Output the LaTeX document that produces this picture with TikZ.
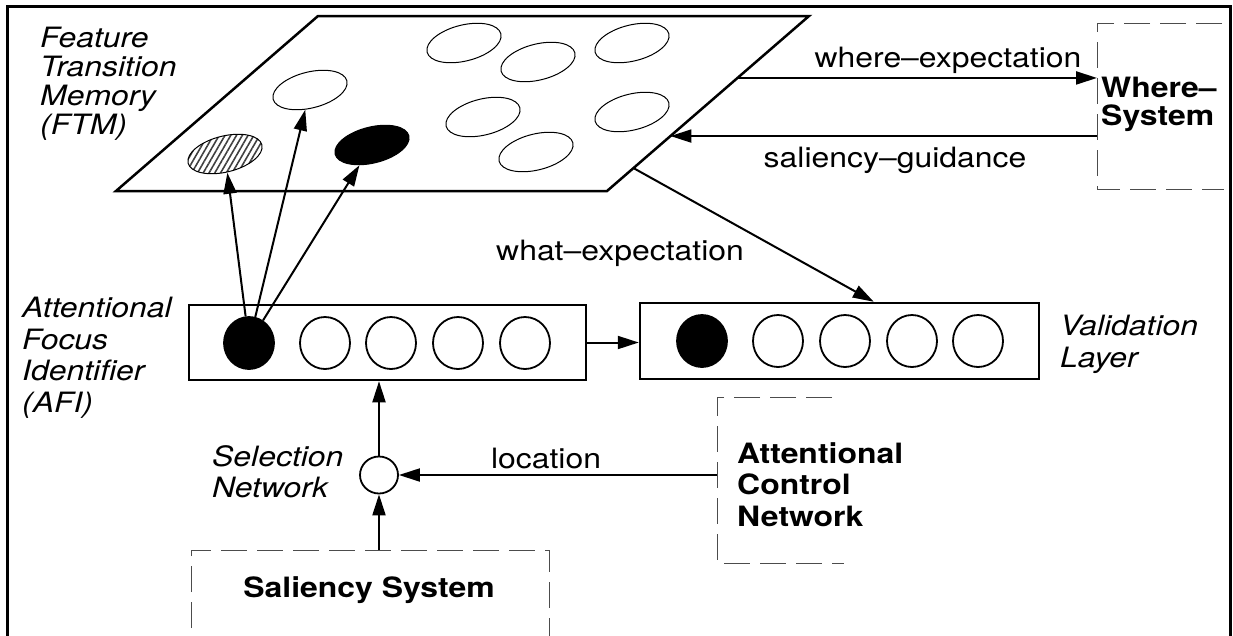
\documentclass[tikz,border=0pt]{standalone}
\usepackage{fontspec}
\setmainfont{TeX Gyre Heros}[FakeStretch=1.14]
\usetikzlibrary{arrows.meta,shapes.geometric,patterns.meta,calc}
\begin{document}
\begin{tikzpicture}[x=1pt,y=-1pt,
  itl/.style={inner sep=0pt,font=\fontsize{28}{31.5}\selectfont\itshape,align=left,anchor=north west},
  bld/.style={inner sep=0pt,font=\fontsize{28}{31.5}\selectfont\bfseries,align=left,anchor=north west},
  lbl/.style={inner sep=0pt,font=\fontsize{28}{31.5}\selectfont,anchor=base},
  cell/.style={ellipse,draw,line width=1.8pt,minimum width=50pt,minimum height=52pt,inner sep=0pt},
  cellon/.style={cell,fill=black},
  feat/.style={ellipse,draw,line width=1pt,minimum width=76pt,minimum height=36pt,inner sep=0pt,rotate=14},
  layer/.style={draw,line width=2.5pt,inner sep=0pt},
  arr/.style={line width=2pt,-{Triangle[length=21pt,width=13pt]}},
  dsh/.style={draw=black!70,line width=1pt,dash pattern=on 26pt off 10pt},
]
\useasboundingbox (0,0) rectangle (1233,635);
\clip (0,0) rectangle (1233,635);

% outer frame (open at the bottom edge of the page)
\draw[line width=3pt] (7.5,700) -- (7.5,6.5) -- (1230,6.5) -- (1230,700);

% feature transition memory plane
\coordinate (p-tl) at (318,16);
\coordinate (p-tr) at (809,16);
\coordinate (p-br) at (607,191);
\coordinate (p-bl) at (116,191);
\draw[line width=2.5pt,line join=miter] (p-tl) -- (p-tr) -- (p-br) -- (p-bl) -- cycle;

\node[feat] (e1) at (464,43) {};
\node[feat] (e2) at (538,62) {};
\node[feat] (e3) at (632,43) {};
\node[feat] (e4) at (483,117) {};
\node[feat] (e5) at (632,112) {};
\node[feat] (e6) at (536,152) {};
\node[feat] (e7) at (310,90) {};
\node[feat,pattern={Lines[angle=60,distance=5pt,line width=1.6pt]},pattern color=black!75] (hatch) at (225,154) {};
\node[feat,fill=black] (blk) at (372,145) {};

\node[itl] (ftm) at (40,27) {Feature\\[-2.5pt]Transition\\[-2.5pt]Memory\\[-2.5pt](FTM)};

% where-system
\coordinate (ws-tl) at (1097,23);
\coordinate (ws-bl) at (1097,189);
\draw[dsh] (1222,23) -- (ws-tl) -- (ws-bl) -- (1224,189);
\node[bld] (where) at (1101,77) {Where--\\[-3.5pt]System};

\coordinate (we-start) at ($(p-tr)!0.354!(p-br)$);
\coordinate (sg-end) at ($(p-tr)!0.686!(p-br)$);
\coordinate (wh-start) at ($(p-tr)!0.869!(p-br)$);
\draw[arr] (we-start) -- (we-start -| ws-tl);
\draw[arr] (sg-end -| ws-tl) -- (sg-end);
\node[lbl] (we) at (948,67) {where--expectation};
\node[lbl] (sg) at (895,167) {saliency--guidance};

% attentional focus identifier
\node[layer,minimum width=397pt,minimum height=75pt] (afi) at (387.5,342.5) {};
\node[cellon] (a1) at (249,343) {};
\node[cell] (a2) at (325,343) {};
\node[cell] (a3) at (391,343) {};
\node[cell] (a4) at (458,343) {};
\node[cell] (a5) at (525,343) {};
\node[itl] (afilbl) at (22,297) {Attentional\\Focus\\Identifier\\(AFI)};

% validation layer
\node[layer,minimum width=399pt,minimum height=76pt] (val) at (839.5,341) {};
\node[cellon] (v1) at (702,341) {};
\node[cell] (v2) at (778,341) {};
\node[cell] (v3) at (845,341) {};
\node[cell] (v4) at (912,341) {};
\node[cell] (v5) at (978,341) {};
\node[itl] (vallbl) at (1060,315) {Validation\\Layer};

\draw[arr] (a1) -- (hatch);
\draw[arr] (a1) -- (e7);
\draw[arr] (a1) -- (blk);
\draw[arr] (afi.east) -- (afi.east -| val.west);
\draw[arr] (wh-start) -- ([xshift=235pt]val.north west);
\node[lbl] (wh) at (620,260) {what--expectation};

% selection network
\node[ellipse,draw,line width=1.8pt,minimum width=38pt,minimum height=37pt,inner sep=0pt] (sel) at (379,475) {};
\node[itl] (sellbl) at (212,445) {Selection\\Network};
\draw[arr] (sel.north) -- (sel.north |- afi.south);

% saliency system
\coordinate (ss-tl) at (191,550);
\coordinate (ss-tr) at (549,550);
\draw[dsh] (191,700) -- (ss-tl) -- (ss-tr) -- (549,700);
\node[bld,anchor=base] (ss) at (369,597) {Saliency System};
\draw[arr] (sel.south |- ss-tl) -- (sel.south);

% attentional control network
\coordinate (acn-tl) at (717,397);
\coordinate (acn-bl) at (717,563);
\draw[dsh] (832,397) -- (acn-tl) -- (acn-bl) -- (844,563);
\node[bld] (acn) at (737,442) {Attentional\\Control\\Network};
\draw[arr] (sel.east -| acn-tl) -- (sel.east);
\node[lbl] (loc) at (546,468) {location};
\end{tikzpicture}
\end{document}
